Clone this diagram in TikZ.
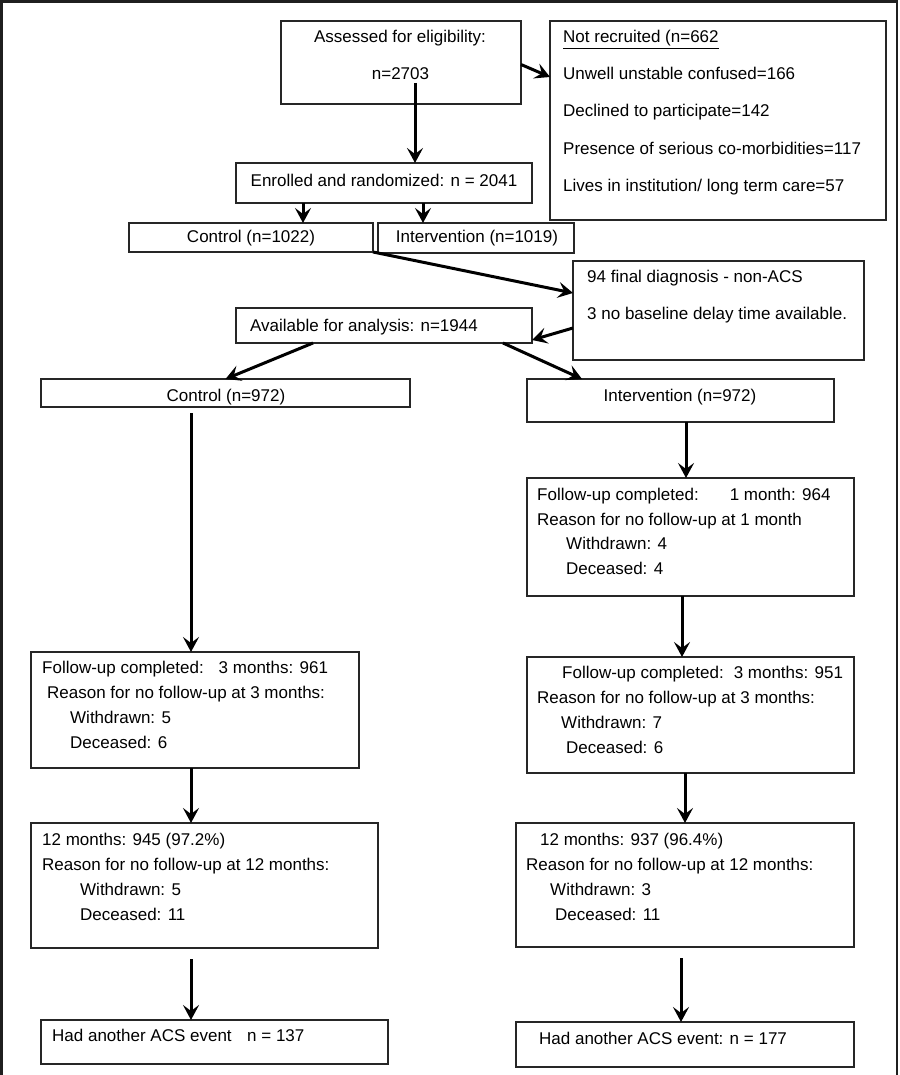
\documentclass[tikz,border=0pt]{standalone}
\usepackage{fontspec}
\setmainfont{Liberation Sans}
\usetikzlibrary{arrows.meta}
\begin{document}
\begin{tikzpicture}[x=1pt,y=-1pt,
  box/.style={draw=black!85, line width=1.2pt, inner sep=0pt, outer sep=0pt, anchor=north west, fill=white},
  txt/.style={anchor=base west, inner sep=0pt, font=\fontsize{17pt}{20pt}\selectfont},
  ctxt/.style={anchor=base, inner sep=0pt, font=\fontsize{17pt}{20pt}\selectfont},
  arr/.style={line width=3pt, -{Stealth[length=15pt,width=16pt,inset=6pt]}},
  frame/.style={line width=2.6pt, draw=black!88}
]
\useasboundingbox (0,0) rectangle (899,1075);
\draw[frame] (1.3,1075) -- (1.3,1.3) -- (897,1.3) -- (897,1075);

% boxes
\node[box, minimum width=240pt, minimum height=83pt] (ass) at (281,21) {};
\node[box, minimum width=336pt, minimum height=199pt] (nrec) at (550,21) {};
\node[box, minimum width=296pt, minimum height=40pt] (enr) at (236,163) {};
\node[box, minimum width=244pt, minimum height=29pt] (ctl1) at (129,223) {};
\node[box, minimum width=196pt, minimum height=30pt] (int1) at (378,223) {};
\node[box, minimum width=291pt, minimum height=99pt] (excl) at (573,261) {};
\node[box, minimum width=296pt, minimum height=35pt] (avail) at (236,308) {};
\node[box, minimum width=369pt, minimum height=28pt] (ctl2) at (41,379) {};
\node[box, minimum width=307pt, minimum height=43pt] (int2) at (527,379) {};
\node[box, minimum width=327pt, minimum height=118pt] (int3) at (527,478) {};
\node[box, minimum width=328pt, minimum height=116pt] (ctl3) at (31,652) {};
\node[box, minimum width=347pt, minimum height=125pt] (ctl4) at (31,823) {};
\node[box, minimum width=347pt, minimum height=44pt] (ctl5) at (41,1020) {};
\node[box, minimum width=327pt, minimum height=116pt] (int4) at (527,657) {};
\node[box, minimum width=338pt, minimum height=124pt] (int5) at (516,823) {};
\node[box, minimum width=338pt, minimum height=45pt] (int6) at (516,1022) {};

% texts
\node[ctxt] (assa) at (400,43) {Assessed for eligibility:};
\node[ctxt] (assn) at (400.5,80) {n=2703};
\node[txt] (nr1) at (563,43) {\underline{Not recruited (n=662}};
\node[txt] (nr2) at (563,80) {Unwell unstable confused=166};
\node[txt] (nr3) at (563,116.7) {Declined to participate=142};
\node[txt] (nr4) at (563,155) {Presence of serious co-morbidities=117};
\node[txt] (nr5) at (563,191.7) {Lives in institution/ long term care=57};
\node[ctxt] (enrt) at (384,187) {Enrolled and randomized: n = 2041};
\node[ctxt] (ctl1t) at (251,243) {Control (n=1022)};
\node[ctxt] (int1t) at (477,243) {Intervention (n=1019)};
\node[txt] (ex1) at (587,282.7) {94 final diagnosis - non-ACS};
\node[txt] (ex2) at (587,319) {3 no baseline delay time available.};
\node[txt] (availt) at (250,331) {Available for analysis: n=1944};
\node[ctxt] (ctl2t) at (226,401) {Control (n=972)};
\node[ctxt] (int2t) at (680,401) {Intervention (n=972)};

\node[txt] (i3a) at (537,500) {Follow-up completed:\hspace{31pt}1 month: 964};
\node[txt] (i3b) at (537,525) {Reason for no follow-up at 1 month};
\node[txt] (i3c) at (566,549.7) {Withdrawn: 4};
\node[txt] (i3d) at (566,574.7) {Deceased: 4};

\node[txt] (c3a) at (42,673.3) {Follow-up completed:\hspace{15pt}3 months: 961};
\node[txt] (c3b) at (47,698.3) {Reason for no follow-up at 3 months:};
\node[txt] (c3c) at (70,723.3) {Withdrawn: 5};
\node[txt] (c3d) at (70,748.3) {Deceased: 6};

\node[txt] (c4a) at (42,845.7) {12 months: 945 (97.2\%)};
\node[txt] (c4b) at (42,870.7) {Reason for no follow-up at 12 months:};
\node[txt] (c4c) at (80,895) {Withdrawn: 5};
\node[txt] (c4d) at (80,920) {Deceased: 11};

\node[txt] (c5a) at (52,1041.7) {Had another ACS event\hspace{15.5pt}n = 137};

\node[txt] (i4a) at (562,678.3) {Follow-up completed:\hspace{10pt}3 months: 951};
\node[txt] (i4b) at (537,703.3) {Reason for no follow-up at 3 months:};
\node[txt] (i4c) at (561,728.3) {Withdrawn: 7};
\node[txt] (i4d) at (566,753.3) {Deceased: 6};

\node[txt] (i5a) at (540,845.7) {12 months: 937 (96.4\%)};
\node[txt] (i5b) at (526,870.7) {Reason for no follow-up at 12 months:};
\node[txt] (i5c) at (550,895) {Withdrawn: 3};
\node[txt] (i5d) at (555,920) {Deceased: 11};

\node[txt] (i6a) at (539,1044.3) {Had another ACS event: n = 177};

% arrows
\draw[arr] ([xshift=14.5pt,yshift=-3pt]assn.base) -- ([xshift=31pt]enr.north);
\draw[arr] ([yshift=-2pt]ass.east) -- ([yshift=-56pt]nrec.north west);
\draw[arr] ([xshift=67pt]enr.south west) -- ([xshift=174pt]ctl1.north west);
\draw[arr] ([xshift=187pt]enr.south west) -- ([xshift=45pt]int1.north west);
\draw[arr] (ctl1.south east) -- ([yshift=-32pt]excl.north west);
\draw[arr] ([yshift=-67pt]excl.north west) -- ([yshift=3pt]avail.south east);
\draw[arr] ([xshift=77pt]avail.south west) -- (ctl2.north);
\draw[arr] ([xshift=267pt]avail.south west) -- ([xshift=55pt]int2.north west);
\draw[arr] ([xshift=150pt,yshift=-6pt]ctl2.south west) -- ([xshift=160pt]ctl3.north west);
\draw[arr] ([xshift=159pt]int2.south west) -- ([xshift=159pt]int3.north west);
\draw[arr] ([xshift=160pt]ctl3.south west) -- ([xshift=160pt]ctl4.north west);
\draw[arr] ([xshift=160pt,yshift=-11pt]ctl4.south west) -- ([xshift=150pt]ctl5.north west);
\draw[arr] ([xshift=155pt]int3.south west) -- ([xshift=155pt]int4.north west);
\draw[arr] ([xshift=158pt]int4.south west) -- ([xshift=169pt]int5.north west);
\draw[arr] ([xshift=165pt,yshift=-11pt]int5.south west) -- ([xshift=165pt]int6.north west);
\end{tikzpicture}
\end{document}
